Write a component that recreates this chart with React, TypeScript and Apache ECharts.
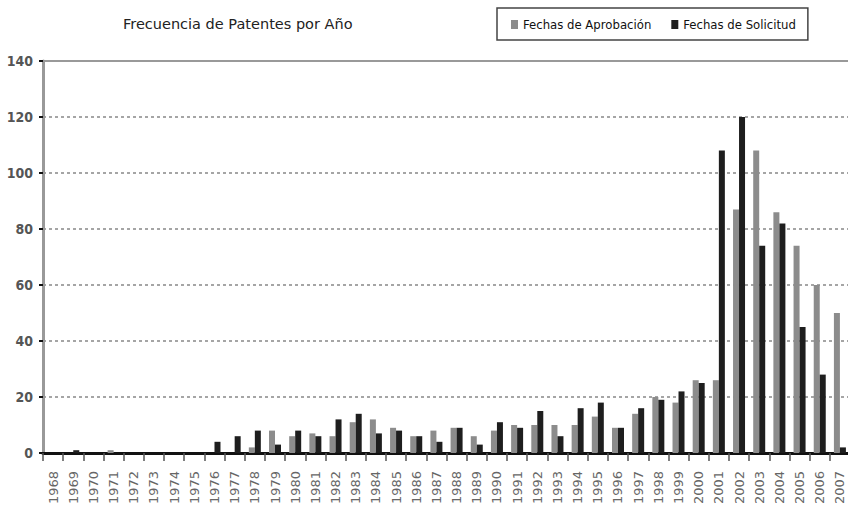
import React, { useEffect, useRef } from "react";
import * as echarts from "echarts";

const years = [
  "1968", "1969", "1970", "1971", "1972", "1973", "1974", "1975", "1976", "1977",
  "1978", "1979", "1980", "1981", "1982", "1983", "1984", "1985", "1986", "1987",
  "1988", "1989", "1990", "1991", "1992", "1993", "1994", "1995", "1996", "1997",
  "1998", "1999", "2000", "2001", "2002", "2003", "2004", "2005", "2006", "2007",
];

const aprobacion = [
  0, 0, 0, 1, 0, 0, 0, 0, 0, 0,
  2, 8, 6, 7, 6, 11, 12, 9, 6, 8,
  9, 6, 8, 10, 10, 10, 10, 13, 9, 14,
  20, 18, 26, 26, 87, 108, 86, 74, 60, 50,
];

const solicitud = [
  0, 1, 0, 0, 0, 0, 0, 0, 4, 6,
  8, 3, 8, 6, 12, 14, 7, 8, 6, 4,
  9, 3, 11, 9, 15, 6, 16, 18, 9, 16,
  19, 22, 25, 108, 120, 74, 82, 45, 28, 2,
];

const yTicks = { min: 0, max: 140, interval: 20 };

const titleText = "Frecuencia de Patentes por Año";
const seriesNames = ["Fechas de Aprobación", "Fechas de Solicitud"];

const condensed = "'Liberation Sans Narrow', 'DejaVu Sans Condensed', 'Arial Narrow', sans-serif";

export default function App() {
  const ref = useRef<HTMLDivElement>(null);

  useEffect(() => {
    if (!ref.current) return;
    const chart = echarts.init(ref.current, null, { renderer: "svg" });
    chart.setOption({
      animation: false,
      backgroundColor: "#ffffff",
      title: {
        text: titleText,
        left: 118,
        top: 11,
        textStyle: {
          fontSize: 14.5,
          fontWeight: "normal",
          color: "#222",
          fontFamily: "'DejaVu Sans', sans-serif",
        },
      },
      legend: {
        left: 497,
        top: 8,
        data: seriesNames,
        borderColor: "#444",
        borderWidth: 1.5,
        padding: [10, 12, 9, 14],
        itemWidth: 7,
        itemHeight: 9,
        itemGap: 20,
        icon: "rect",
        textStyle: {
          fontSize: 13,
          color: "#111",
          fontFamily: condensed,
        },
      },
      grid: {
        left: 43,
        top: 61,
        width: 807,
        height: 392,
        containLabel: false,
      },
      xAxis: {
        type: "category",
        data: years,
        boundaryGap: true,
        axisLine: { show: true, lineStyle: { color: "#111", width: 3 } },
        axisTick: { show: true, length: 8, lineStyle: { color: "#555", width: 1.5 } },
        axisLabel: {
          rotate: 90,
          interval: 0,
          margin: 18,
          fontSize: 13,
          color: "#666",
          fontFamily: "'DejaVu Sans', sans-serif",
        },
        splitLine: { show: false },
      },
      yAxis: {
        type: "value",
        min: yTicks.min,
        max: yTicks.max,
        interval: yTicks.interval,
        axisLine: { show: true, lineStyle: { color: "#999", width: 3 } },
        axisTick: { show: true, length: 4, lineStyle: { color: "#111", width: 2 } },
        axisLabel: {
          margin: 10,
          fontSize: 14,
          color: "#555",
          fontWeight: "bold",
          fontFamily: condensed,
        },
        splitLine: {
          show: true,
          lineStyle: { color: "#888", width: 1.5, type: [3, 3] },
        },
      },
      series: [
        {
          name: seriesNames[0],
          type: "bar",
          data: aprobacion,
          barWidth: 6,
          barGap: "0%",
          itemStyle: { color: "#8c8c8c" },
          markLine: {
            silent: true,
            symbol: "none",
            label: { show: false },
            lineStyle: { type: "solid", color: "#999", width: 2 },
            data: [{ yAxis: yTicks.max }],
          },
        },
        {
          name: seriesNames[1],
          type: "bar",
          data: solicitud,
          barWidth: 6,
          barGap: "0%",
          itemStyle: { color: "#1e1e1e" },
        },
      ],
    });
    return () => chart.dispose();
  }, []);

  return (
    <div
      style={{
        position: "absolute",
        left: 0,
        top: 0,
        width: 848,
        height: 514,
        overflow: "hidden",
        background: "#fff",
      }}
    >
      <div ref={ref} style={{ width: 860, height: 514 }} />
    </div>
  );
}
